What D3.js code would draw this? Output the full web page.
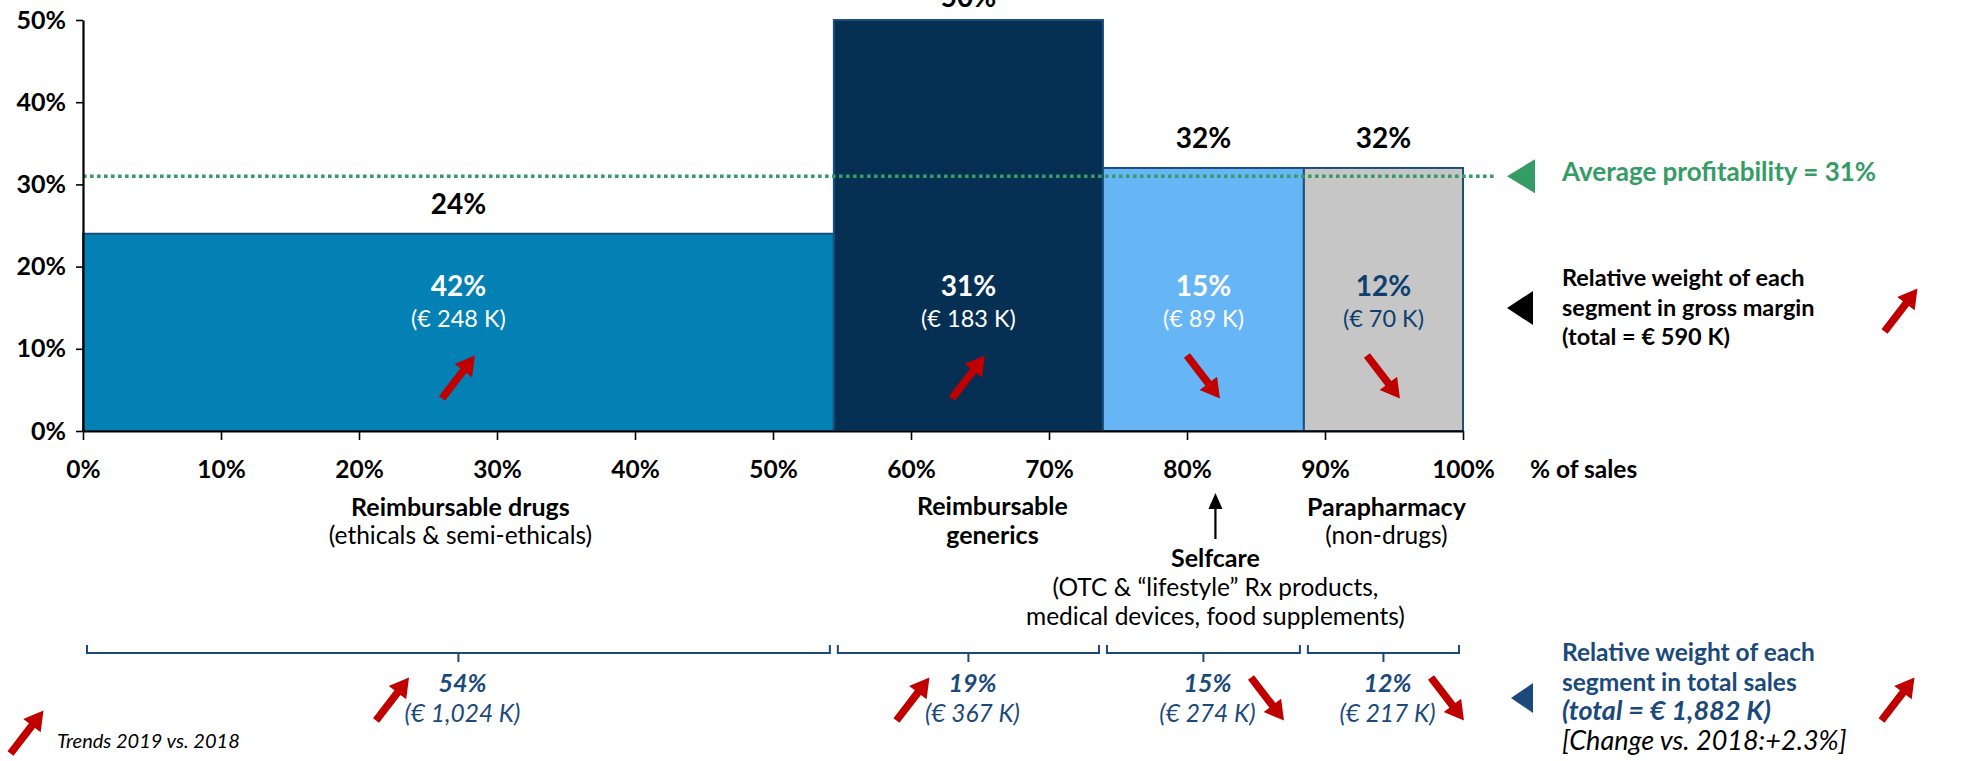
<!DOCTYPE html>
<html>
<head>
<meta charset="utf-8">
<script src="https://cdn.jsdelivr.net/npm/d3@7"></script>
<style>
  html, body { margin: 0; padding: 0; background: #fff; }
  svg { display: block; }
  text { font-family: Lato, "Open Sans", sans-serif; }
</style>
</head>
<body>
<svg id="chart" width="1979" height="761"></svg>
<script>
// ---- data ---------------------------------------------------------------
const segmentTitles    = [["Reimbursable drugs"], ["Reimbursable", "generics"], ["Selfcare"], ["Parapharmacy"]];
const segmentSubtitles = [["(ethicals & semi-ethicals)"], [], ["(OTC & \u201clifestyle\u201d Rx products,", "medical devices, food supplements)"], ["(non-drugs)"]];
const salesK        = [1024, 367, 274, 217];   // sales per segment, € K
const marginK       = [248, 183, 89, 70];      // gross margin per segment, € K
const profitability = [24, 50, 32, 32];        // gross margin / sales, %
const marginShare   = [42, 31, 15, 12];        // share of total gross margin, %
const salesShare    = [54, 19, 15, 12];        // share of total sales, %
const marginTrend   = ["up", "up", "down", "down"];
const salesTrend    = ["up", "up", "down", "down"];
const averageProfitability = 31;
const totalMarginK  = 590;
const totalSalesK   = 1882;
const salesChange   = "+2.3%";
const xTicks = [0, 10, 20, 30, 40, 50, 60, 70, 80, 90, 100];
const yTicks = [0, 10, 20, 30, 40, 50];

// ---- styling --------------------------------------------------------------
const fills      = ["#0380B4", "#052F53", "#66B5F5", "#C6C6C6"];
const innerInk   = ["#ffffff", "#ffffff", "#ffffff", "#0E3F6F"];
const NAVY  = "#1B4A7A";
const GREEN = "#359C66";
const RED   = "#C00000";
const ARIAL = "'Liberation Sans', Arial, sans-serif";

const svg = d3.select("#chart");
svg.append("rect").attr("width", 1979).attr("height", 761).attr("fill", "#fff");

const x = d3.scaleLinear().domain([0, 100]).range([83, 1463]);
const y = d3.scaleLinear().domain([0, 50]).range([431, 20]);

// cumulative sales positions along the x axis
const salesTotal = d3.sum(salesK);
let acc = 0;
const segs = salesK.map((s, i) => {
  const x0 = acc / salesTotal * 100;
  acc += s;
  const x1 = acc / salesTotal * 100;
  return { i, x0, x1, mid: (x0 + x1) / 2 };
});

// ---- red trend arrow --------------------------------------------------------
function trendArrow(g, cx, cy, dir) {
  const dx = 16.5, dy = 21.5;
  const S = dir === "up" ? [cx - dx, cy + dy] : [cx - dx, cy - dy];
  const E = dir === "up" ? [cx + dx, cy - dy] : [cx + dx, cy + dy];
  const L = Math.hypot(E[0] - S[0], E[1] - S[1]);
  const u = [(E[0] - S[0]) / L, (E[1] - S[1]) / L];
  const n = [-u[1], u[0]];
  const hw = 3.8, hh = 11, hl = 19;
  const B = [E[0] - u[0] * hl, E[1] - u[1] * hl];
  const p = (P, k) => [P[0] + n[0] * k, P[1] + n[1] * k];
  const pts = [p(S, hw), p(B, hw), p(B, hh), E, p(B, -hh), p(B, -hw), p(S, -hw)];
  g.append("polygon").attr("points", pts.map(d => d.join(",")).join(" ")).attr("fill", RED);
}

// ---- bars -----------------------------------------------------------------
const plot = svg.append("g");
plot.selectAll("rect.bar").data(segs).join("rect")
  .attr("class", "bar")
  .attr("x", d => x(d.x0))
  .attr("width", d => x(d.x1) - x(d.x0))
  .attr("y", d => y(profitability[d.i]))
  .attr("height", d => y(0) - y(profitability[d.i]))
  .attr("fill", d => fills[d.i])
  .attr("stroke", "#1D4F7E")
  .attr("stroke-width", 2);

// profitability on top of each bar
plot.selectAll("text.top").data(segs).join("text")
  .attr("x", d => x(d.mid))
  .attr("y", d => Math.max(y(profitability[d.i]) - 20, 7))
  .attr("text-anchor", "middle")
  .attr("font-weight", 700).attr("font-size", 28).attr("fill", "#000")
  .text(d => profitability[d.i] + "%");

// share of gross margin inside each bar
plot.selectAll("text.share").data(segs).join("text")
  .attr("x", d => x(d.mid)).attr("y", 296)
  .attr("text-anchor", "middle")
  .attr("font-weight", 700).attr("font-size", 28)
  .attr("fill", d => innerInk[d.i])
  .text(d => marginShare[d.i] + "%");
plot.selectAll("text.eur").data(segs).join("text")
  .attr("x", d => x(d.mid)).attr("y", 327)
  .attr("text-anchor", "middle")
  .attr("font-size", 23.5)
  .attr("fill", d => innerInk[d.i])
  .text(d => "(\u20ac " + d3.format(",")(marginK[d.i]) + " K)");

segs.forEach(d => trendArrow(plot, x(d.mid), 377, marginTrend[d.i]));

// ---- average profitability line -------------------------------------------
svg.append("line")
  .attr("x1", x(0)).attr("x2", 1495)
  .attr("y1", y(averageProfitability)).attr("y2", y(averageProfitability))
  .attr("stroke", GREEN).attr("stroke-width", 3.6).attr("stroke-dasharray", "3.6 3.4");

// ---- axes -----------------------------------------------------------------
const xAxis = svg.append("g").attr("transform", `translate(0,${y(0)})`)
  .call(d3.axisBottom(x).tickValues(xTicks).tickSize(9).tickSizeOuter(0).tickFormat(d => d + "%"));
xAxis.select(".domain").attr("stroke", "#000").attr("stroke-width", 2.2);
xAxis.selectAll(".tick line").attr("stroke", "#000").attr("stroke-width", 1.6);
xAxis.selectAll(".tick text")
  .attr("y", 47).attr("dy", 0)
  .attr("fill", "#000").attr("font-size", 24.5).attr("font-weight", 700)
  .attr("font-family", "Lato, sans-serif");

const yAxis = svg.append("g").attr("transform", `translate(${x(0)},0)`)
  .call(d3.axisLeft(y).tickValues(yTicks).tickSize(7).tickSizeOuter(0).tickFormat(d => d + "%"));
yAxis.select(".domain").attr("stroke", "#000").attr("stroke-width", 2.2);
yAxis.selectAll(".tick line").attr("stroke", "#000").attr("stroke-width", 1.6);
yAxis.selectAll(".tick text")
  .attr("x", -17).attr("dy", 8)
  .attr("fill", "#000").attr("font-size", 25).attr("font-weight", 700)
  .attr("font-family", ARIAL);

svg.append("text").attr("x", 1530).attr("y", 478)
  .attr("font-size", 24.5).attr("font-weight", 700).attr("fill", "#000")
  .text("% of sales");

// ---- segment names under the axis ------------------------------------------
const nameShift = [2, 24, 12, 3];
const nameTop   = [516, 515, 567, 516];
segs.forEach(d => {
  const cx = x(d.mid) + nameShift[d.i];
  let yy = nameTop[d.i];
  const t = svg.append("g");
  segmentTitles[d.i].forEach(line => {
    t.append("text").attr("x", cx).attr("y", yy).attr("text-anchor", "middle")
      .attr("font-size", 25).attr("font-weight", 700).attr("fill", "#000").text(line);
    yy += 29;
  });
  segmentSubtitles[d.i].forEach(line => {
    t.append("text").attr("x", cx).attr("y", yy - 1 + (d.i === 2 ? 1 : 0)).attr("text-anchor", "middle")
      .attr("font-size", 24.5).attr("fill", "#000").text(line);
    yy += 29;
  });
});

// pointer from the Selfcare label up to its segment
{
  const sx = x(segs[2].mid) + nameShift[2];
  svg.append("line").attr("x1", sx).attr("x2", sx).attr("y1", 539).attr("y2", 505)
    .attr("stroke", "#000").attr("stroke-width", 2.2);
  svg.append("polygon")
    .attr("points", `${sx},493 ${sx - 7},509 ${sx + 7},509`).attr("fill", "#000");
}

// ---- sales brackets ---------------------------------------------------------
const bracketY = 653;
segs.forEach(d => {
  const a = x(d.x0) + 4, b = x(d.x1) - 4, m = x(d.mid);
  svg.append("path")
    .attr("d", `M${a},${bracketY - 8}V${bracketY}H${b}V${bracketY - 8}M${m},${bracketY}V${bracketY + 9}`)
    .attr("fill", "none").attr("stroke", NAVY).attr("stroke-width", 2);

  svg.append("text").attr("x", m + 4).attr("y", 692).attr("text-anchor", "middle")
    .attr("font-size", 25).attr("font-weight", 700).attr("font-style", "italic").attr("fill", NAVY)
    .text(salesShare[d.i] + "%");
  const eur = svg.append("text").attr("x", m + 4).attr("y", 722).attr("text-anchor", "middle")
    .attr("font-size", 24.5).attr("font-style", "italic").attr("fill", NAVY)
    .text("(\u20ac " + d3.format(",")(salesK[d.i]) + " K)");
  const half = eur.node().getComputedTextLength() / 2;
  const side = salesTrend[d.i] === "up" ? -1 : 1;
  trendArrow(svg, m + 4 + side * (half + 12), 699, salesTrend[d.i]);
});

// ---- legend on the right ----------------------------------------------------
const lx = 1562;
svg.append("polygon")
  .attr("points", `1507,${y(averageProfitability)} 1535,${y(averageProfitability) - 17} 1535,${y(averageProfitability) + 17}`)
  .attr("fill", GREEN);
svg.append("text").attr("x", lx).attr("y", 181)
  .attr("font-size", 26).attr("font-weight", 700).attr("fill", GREEN)
  .text(`Average profitability = ${averageProfitability}%`);

svg.append("polygon").attr("points", "1507,308 1533,291 1533,325").attr("fill", "#000");
["Relative weight of each", "segment in gross margin", `(total = \u20ac ${totalMarginK} K)`].forEach((s, k) => {
  svg.append("text").attr("x", lx).attr("y", 286 + k * 29.5)
    .attr("font-size", 23.5).attr("font-weight", 700).attr("fill", "#000").text(s);
});
trendArrow(svg, 1901, 310, "up");

svg.append("polygon").attr("points", "1511,698 1533,683 1533,713").attr("fill", NAVY);
const salesLegend = [
  { t: "Relative weight of each", w: 700, s: "normal", c: NAVY, f: 24.5 },
  { t: "segment in total sales", w: 700, s: "normal", c: NAVY, f: 24.5 },
  { t: `(total = \u20ac ${d3.format(",")(totalSalesK)} K)`, w: 700, s: "italic", c: NAVY, f: 27 },
  { t: `[Change vs. 2018:${salesChange}]`, w: 400, s: "italic", c: "#000", f: 27 }
];
salesLegend.forEach((r, k) => {
  svg.append("text").attr("x", lx).attr("y", 661 + k * 29.7)
    .attr("font-size", r.f).attr("font-weight", r.w).attr("font-style", r.s).attr("fill", r.c).text(r.t);
});
trendArrow(svg, 1898, 699, "up");

// trend key bottom-left
trendArrow(svg, 27, 732, "up");
svg.append("text").attr("x", 57).attr("y", 748)
  .attr("font-size", 20).attr("font-style", "italic").attr("fill", "#000")
  .text("Trends 2019 vs. 2018");
</script>
</body>
</html>
